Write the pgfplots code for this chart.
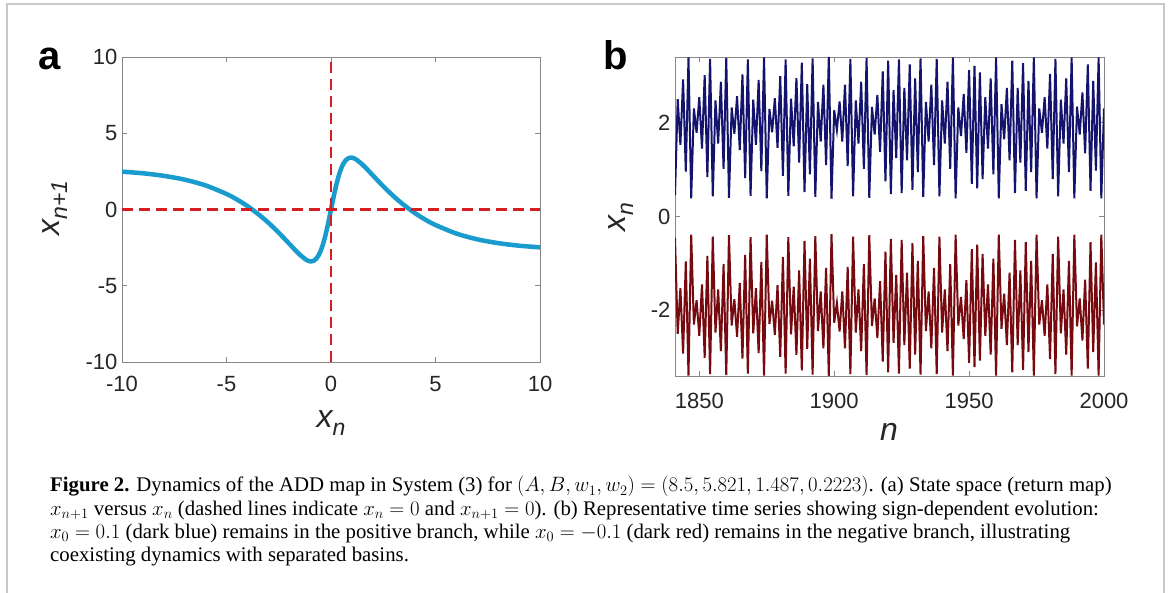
\documentclass[border=0pt]{standalone}
\usepackage{fontspec}
\setmainfont{Liberation Serif}
\newfontfamily\plotfont{Liberation Sans}
\usepackage{pgfplots}
\usepackage{pgfplotstable}
\pgfplotsset{compat=1.18}
\definecolor{curveblue}{RGB}{25,155,205}
\definecolor{dashred}{RGB}{212,30,35}
\definecolor{navyline}{RGB}{20,20,110}
\definecolor{darkredline}{RGB}{118,10,15}
\definecolor{axisgray}{RGB}{135,135,135}
\definecolor{labelgray}{RGB}{38,38,38}
\definecolor{framegray}{RGB}{200,200,200}

\pgfplotstableread{
x y
-10 2.481
-9 2.374
-8 2.206
-7 1.956
-6 1.577
-5 1.018
-4.5 0.655
-4 0.224
-3.5 -0.283
-3 -0.863
-2.5 -1.522
-2 -2.242
-1.75 -2.608
-1.5 -2.953
-1.2 -3.285
-1.1 -3.358
-1 -3.400
-0.9 -3.393
-0.8 -3.339
-0.7 -3.218
-0.6 -3.021
-0.5 -2.733
-0.4 -2.350
-0.3 -1.871
-0.2 -1.304
-0.1 -0.670
0 0
0.1 0.670
0.2 1.304
0.3 1.871
0.4 2.350
0.5 2.733
0.6 3.021
0.7 3.218
0.8 3.339
0.9 3.393
1 3.400
1.1 3.358
1.2 3.285
1.5 2.953
1.75 2.608
2 2.242
2.5 1.522
3 0.863
3.5 0.283
4 -0.224
4.5 -0.655
5 -1.018
6 -1.577
7 -1.956
8 -2.206
9 -2.374
10 -2.481
}\mapdata

\pgfplotstableread{
n pos neg
1841 0.46 -0.46
1842 2.51 -2.51
1843 1.53 -1.53
1844 2.93 -2.93
1845 0.96 -0.96
1846 3.40 -3.40
1847 0.39 -0.39
1848 2.31 -2.31
1849 1.79 -1.79
1850 2.55 -2.55
1851 1.45 -1.45
1852 3.02 -3.02
1853 0.84 -0.84
1854 3.37 -3.37
1855 0.43 -0.43
1856 2.48 -2.48
1857 1.56 -1.56
1858 2.88 -2.88
1859 1.02 -1.02
1860 3.39 -3.39
1861 0.40 -0.40
1862 2.33 -2.33
1863 1.77 -1.77
1864 2.57 -2.57
1865 1.42 -1.42
1866 3.04 -3.04
1867 0.82 -0.82
1868 3.36 -3.36
1869 0.44 -0.44
1870 2.50 -2.50
1871 1.53 -1.53
1872 2.92 -2.92
1873 0.97 -0.97
1874 3.40 -3.40
1875 0.39 -0.39
1876 2.30 -2.30
1877 1.80 -1.80
1878 2.53 -2.53
1879 1.47 -1.47
1880 3.00 -3.00
1881 0.87 -0.87
1882 3.36 -3.36
1883 0.44 -0.44
1884 2.52 -2.52
1885 1.50 -1.50
1886 2.96 -2.96
1887 1.15 -1.15
1888 3.29 -3.29
1889 0.52 -0.52
1890 2.83 -2.83
1891 0.90 -0.90
1892 3.38 -3.38
1893 0.42 -0.42
1894 2.45 -2.45
1895 1.60 -1.60
1896 2.82 -2.82
1897 1.10 -1.10
1898 3.41 -3.41
1899 0.38 -0.38
1900 2.27 -2.27
1901 1.85 -1.85
1902 2.46 -2.46
1903 1.60 -1.60
1904 2.82 -2.82
1905 1.08 -1.08
1906 3.37 -3.37
1907 0.43 -0.43
1908 2.48 -2.48
1909 1.56 -1.56
1910 2.88 -2.88
1911 1.02 -1.02
1912 3.39 -3.39
1913 0.40 -0.40
1914 2.34 -2.34
1915 1.75 -1.75
1916 2.60 -2.60
1917 1.38 -1.38
1918 3.10 -3.10
1919 0.75 -0.75
1920 3.33 -3.33
1921 0.48 -0.48
1922 2.70 -2.70
1923 1.25 -1.25
1924 3.36 -3.36
1925 0.50 -0.50
1926 2.75 -2.75
1927 1.20 -1.20
1928 3.25 -3.25
1929 0.57 -0.57
1930 2.95 -2.95
1931 0.95 -0.95
1932 3.38 -3.38
1933 0.42 -0.42
1934 2.45 -2.45
1935 1.60 -1.60
1936 2.82 -2.82
1937 1.10 -1.10
1938 3.37 -3.37
1939 0.43 -0.43
1940 2.48 -2.48
1941 1.56 -1.56
1942 2.88 -2.88
1943 1.02 -1.02
1944 3.40 -3.40
1945 0.39 -0.39
1946 2.33 -2.33
1947 1.72 -1.72
1948 2.62 -2.62
1949 1.36 -1.36
1950 3.13 -3.13
1951 0.70 -0.70
1952 3.22 -3.22
1953 0.60 -0.60
1954 3.08 -3.08
1955 0.80 -0.80
1956 2.55 -2.55
1957 1.45 -1.45
1958 2.95 -2.95
1959 0.90 -0.90
1960 3.40 -3.40
1961 0.39 -0.39
1962 2.40 -2.40
1963 1.65 -1.65
1964 2.75 -2.75
1965 1.20 -1.20
1966 3.33 -3.33
1967 0.50 -0.50
1968 2.75 -2.75
1969 1.15 -1.15
1970 3.28 -3.28
1971 0.55 -0.55
1972 2.90 -2.90
1973 0.95 -0.95
1974 3.40 -3.40
1975 0.39 -0.39
1976 2.31 -2.31
1977 1.79 -1.79
1978 2.55 -2.55
1979 1.45 -1.45
1980 3.05 -3.05
1981 0.80 -0.80
1982 3.37 -3.37
1983 0.43 -0.43
1984 2.50 -2.50
1985 1.56 -1.56
1986 2.95 -2.95
1987 0.95 -0.95
1988 3.40 -3.40
1989 0.39 -0.39
1990 2.35 -2.35
1991 1.75 -1.75
1992 2.65 -2.65
1993 1.35 -1.35
1994 3.25 -3.25
1995 0.55 -0.55
1996 2.90 -2.90
1997 0.98 -0.98
1998 3.40 -3.40
1999 0.39 -0.39
2000 2.31 -2.31
}\seriesdata

\pgfplotsset{
  panelstyle/.style={
    scale only axis,
    anchor=south west,
    tick align=inside,
    major tick length=5pt,
    axis line style={axisgray, line width=0.9pt},
    tick style={axisgray, line width=0.9pt},
    tick label style={font=\plotfont\fontsize{22}{25}\selectfont, text=labelgray},
    yticklabel shift=1pt,
  }
}

\begin{document}
\begin{tikzpicture}[x=1pt,y=1pt]
\useasboundingbox (0,0) rectangle (1170,592);
\fill[white] (0,0) rectangle (1170,592);
\draw[framegray, line width=1.5pt] (7,-2) -- (7,588) -- (1164,588) -- (1164,-2);

% Panel a
\begin{axis}[panelstyle,
  at={(122pt,230pt)}, width=418pt, height=305pt,
  xmin=-10, xmax=10, ymin=-10, ymax=10,
  xtick={-10,-5,0,5,10}, xticklabels={-10,-5,0,5,10},
  ytick={-10,-5,0,5,10}, yticklabels={-10,-5,0,5,10},
  xticklabel shift=11pt,
]
\addplot[curveblue, line width=4.5pt, smooth, line cap=round] table[x=x,y=y] {\mapdata};
\addplot[dashred, line width=2.8pt, dash pattern=on 11pt off 6pt] coordinates {(-10,0) (10,0)};
\addplot[dashred, line width=2.8pt, dash pattern=on 11pt off 6pt] coordinates {(0,-10) (0,10)};
\end{axis}

% Panel b
\begin{axis}[panelstyle,
  at={(675pt,216pt)}, width=429pt, height=319pt,
  xmin=1841, xmax=2000, ymin=-3.41, ymax=3.41,
  xtick={1850,1900,1950,2000}, xticklabels={1850,1900,1950,2000},
  ytick={-2,0,2}, yticklabels={-2,0,2},
  xticklabel shift=14pt,
]
\addplot[navyline, line width=2pt, line join=miter] table[x=n,y=pos] {\seriesdata};
\addplot[darkredline, line width=2pt, line join=miter] table[x=n,y=neg] {\seriesdata};
\end{axis}

% panel letters
\node[anchor=base west, inner sep=0, font=\plotfont\bfseries\fontsize{40}{40}\selectfont, text=black] at (38,522) {a};
\node[anchor=base west, inner sep=0, font=\plotfont\bfseries\fontsize{40}{40}\selectfont, text=black] at (603,522) {b};

% axis labels
\node[anchor=base, inner sep=0, text=labelgray, font=\plotfont\itshape\fontsize{32}{32}\selectfont] at (331,164) {x\raisebox{-8pt}{\fontsize{23}{23}\selectfont n}};
\node[anchor=base, inner sep=0, rotate=90, text=labelgray, font=\plotfont\itshape\fontsize{32}{32}\selectfont] at (59,384) {x\raisebox{-8pt}{\fontsize{23}{23}\selectfont n+1}};
\node[anchor=base, inner sep=0, text=labelgray, font=\plotfont\itshape\fontsize{32}{32}\selectfont] at (889,151) {n};
\node[anchor=base, inner sep=0, rotate=90, text=labelgray, font=\plotfont\itshape\fontsize{32}{32}\selectfont] at (625,375) {x\raisebox{-8pt}{\fontsize{23}{23}\selectfont n}};

% caption
\begin{scope}[every node/.style={anchor=base west, inner sep=0, font=\fontsize{20.8}{22}\selectfont}]
\node at (50,100) {\textbf{Figure 2.} Dynamics of the ADD map in System (3) for $(A,B,w_1,w_2)=(8.5,5.821,1.487,0.2223)$. (a) State space (return map)};
\node at (50,77) {$x_{n+1}$ versus $x_n$ (dashed lines indicate $x_n=0$ and $x_{n+1}=0$). (b) Representative time series showing sign-dependent evolution:};
\node at (50,54) {$x_0=0.1$ (dark blue) remains in the positive branch, while $x_0=-0.1$ (dark red) remains in the negative branch, illustrating};
\node at (50,31) {coexisting dynamics with separated basins.};
\end{scope}
\end{tikzpicture}
\end{document}
